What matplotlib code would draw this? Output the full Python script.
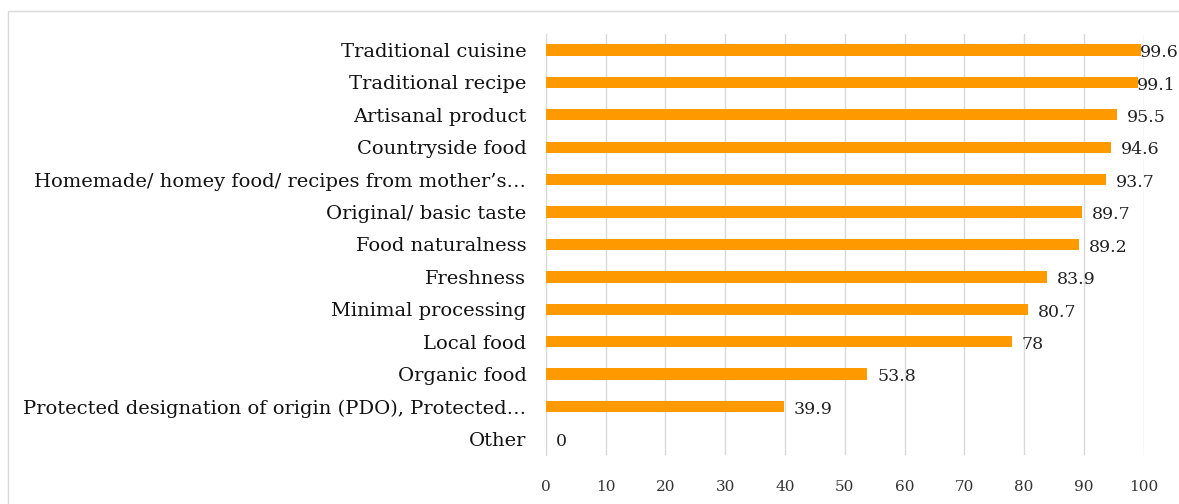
import matplotlib.pyplot as plt
from matplotlib.patches import Rectangle

categories = [
    "Traditional cuisine",
    "Traditional recipe",
    "Artisanal product",
    "Countryside food",
    "Homemade/ homey food/ recipes from mother\u2019s\u2026",
    "Original/ basic taste",
    "Food naturalness",
    "Freshness",
    "Minimal processing",
    "Local food",
    "Organic food",
    "Protected designation of origin (PDO), Protected\u2026",
    "Other",
]
values = [99.6, 99.1, 95.5, 94.6, 93.7, 89.7, 89.2, 83.9, 80.7, 78, 53.8, 39.9, 0]
value_labels = ["99.6", "99.1", "95.5", "94.6", "93.7", "89.7", "89.2", "83.9", "80.7", "78", "53.8", "39.9", "0"]
xticks = [0, 10, 20, 30, 40, 50, 60, 70, 80, 90, 100]

plt.rcParams['font.family'] = ['DejaVu Serif']

fig = plt.figure(figsize=(11.79, 5.04), dpi=100)
ax = fig.add_axes([0.463, 0.097, 0.507, 0.836])

# light frame round the chart
fig.patches.append(Rectangle((8 / 1179, -0.05), 1.2, 1 - 11 / 504 + 0.05, transform=fig.transFigure,
                             fill=False, edgecolor='#d9d9d9', linewidth=1.0))

ypos = list(range(len(categories)))
ax.barh(ypos, values, height=0.35, color='#ff9900', zorder=3)

for y, v, lab in zip(ypos, values, value_labels):
    # the two longest bars have their labels right on the bar end, as in the original
    off = -1 if v > 99 else 7
    ax.annotate(lab, (v, y), xytext=(off, -2), textcoords='offset points',
                ha='left', va='center', fontsize=12.5, color='#222222', zorder=4)

ax.set_xlim(0, 100)
ax.set_ylim(len(categories) - 0.5, -0.5)
ax.set_yticks(ypos)
ax.set_yticklabels(categories, fontsize=14, color='#111111')
ax.set_xticks(xticks)
ax.set_xticklabels([str(t) for t in xticks], fontsize=11, color='#333333')
ax.tick_params(axis='y', length=0, pad=14)
ax.tick_params(axis='x', length=0, pad=18)

ax.grid(axis='x', color='#d9d9d9', linewidth=1.0, zorder=0)
for side in ['top', 'right', 'bottom']:
    ax.spines[side].set_visible(False)
ax.spines['left'].set_color('#d9d9d9')

fig.savefig('out.png', dpi=100)
